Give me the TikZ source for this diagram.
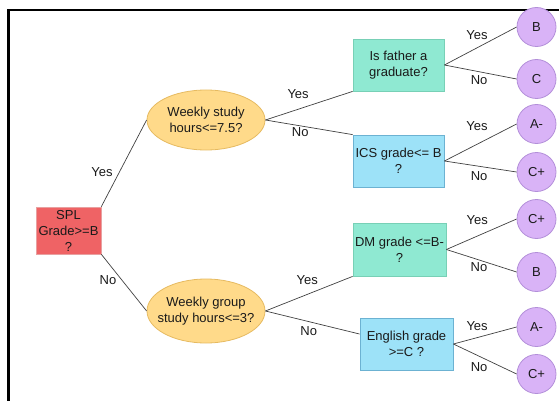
\documentclass[tikz,border=0pt]{standalone}
\usepackage{fontspec}
\setmainfont{Liberation Sans}
\usetikzlibrary{shapes.geometric}
\definecolor{redfill}{HTML}{EF6365}
\definecolor{redline}{HTML}{E8A0A0}
\definecolor{yelfill}{HTML}{FFDA8A}
\definecolor{yelline}{HTML}{E6BA60}
\definecolor{grnfill}{HTML}{8FE9D2}
\definecolor{grnline}{HTML}{78D0B6}
\definecolor{blufill}{HTML}{9DE2F8}
\definecolor{bluline}{HTML}{6CB2D2}
\definecolor{purfill}{HTML}{D9B3F7}
\definecolor{purline}{HTML}{B38FD9}
\definecolor{ink}{HTML}{1A1A1A}
\tikzset{
  txt/.style={font=\fontsize{13}{16}\selectfont, text=ink, align=center, inner sep=0pt},
  rootbox/.style={txt, rectangle, fill=redfill, draw=redline, line width=0.6pt, minimum width=65pt, minimum height=47pt},
  ellbox/.style={txt, ellipse, fill=yelfill, draw=yelline, line width=0.8pt, minimum width=118pt, inner sep=-10pt},
  grnbox/.style={txt, rectangle, fill=grnfill, draw=grnline, line width=0.8pt, minimum width=91pt, minimum height=52pt},
  blubox/.style={txt, rectangle, fill=blufill, draw=bluline, line width=0.8pt, minimum width=92pt, minimum height=52pt},
  leaf/.style={txt, circle, fill=purfill, draw=purline, line width=0.8pt, minimum size=39pt},
  conn/.style={draw=black!75, line width=0.7pt},
  lbl/.style={txt, fill=none, draw=none}
}
\begin{document}
\begin{tikzpicture}[x=1pt, y=-1pt]
\useasboundingbox (0,0) rectangle (559,401);
% frame
\coordinate (fbl) at (8.5,401);
\coordinate (ftl) at (8.5,10);
\coordinate (ftr) at (559,10);
\draw[line width=2.3pt, black] (fbl) -- (ftl) -- (ftr);

\node[rootbox] (spl) at (68.5,230.5) {SPL\\Grade>=B\\?};
\node[ellbox, minimum height=60pt] (e1) at (206,120) {Weekly study\\hours<=7.5?};
\node[ellbox, minimum height=64pt] (e2) at (206,311) {Weekly group\\study hours<=3?};
\node[grnbox] (fa) at (398.5,65) {Is father a\\graduate?};
\node[blubox, minimum width=91pt] (ics) at (398.5,161) {ICS grade<= B\\?};
\node[grnbox, minimum width=93pt, minimum height=53pt] (dm) at (399.5,249.5) {DM grade <=B-\\?};
\node[blubox, minimum width=93pt] (en) at (406.5,344) {English grade\\>=C ?};

\node[leaf] (l1) at (536.5,27) {B};
\node[leaf] (l2) at (536.5,79) {C};
\node[leaf] (l3) at (536.5,124) {A-};
\node[leaf] (l4) at (536.5,172) {C+};
\node[leaf] (l5) at (536.5,219) {C+};
\node[leaf] (l6) at (536.5,272) {B};
\node[leaf] (l7) at (536.5,327) {A-};
\node[leaf] (l8) at (536.5,374) {C+};

\path[conn] (spl.north east) -- node[lbl, pos=0.4, left=6.5pt] (t1) {Yes} (e1.west);
\path[conn] (spl.south east) -- node[lbl, pos=0.45, left=5pt] (t2) {No} (e2.west);
\path[conn] (e1.east) -- node[lbl, pos=0.375, above=10pt] (t3) {Yes} (fa.south west);
\path[conn] (e1.east) -- node[lbl, pos=0.4, below=1pt] (t4) {No} (ics.north west);
\path[conn] (e2.east) -- node[lbl, pos=0.48, above=9pt] (t5) {Yes} (dm.south west);
\path[conn] (e2.east) -- node[lbl, pos=0.46, below=5pt] (t6) {No} (en.168);
\path[conn] (fa.east) -- node[lbl, pos=0.45, above=8pt] (t7) {Yes} (l1.west);
\path[conn] (fa.east) -- node[lbl, pos=0.48, below=3pt] (t8) {No} (l2.west);
\path[conn] (ics.east) -- node[lbl, pos=0.45, above=13pt] (t9) {Yes} (l3.west);
\path[conn] (ics.east) -- node[lbl, pos=0.48, below=5pt] (t10) {No} (l4.west);
\path[conn] (dm.east) -- node[lbl, pos=0.44, above=11pt] (t11) {Yes} (l5.west);
\path[conn] (dm.east) -- node[lbl, pos=0.465, below=2pt] (t12) {No} (l6.west);
\path[conn] (en.east) -- node[lbl, pos=0.375, above=7pt] (t13) {Yes} (l7.west);
\path[conn] (en.east) -- node[lbl, pos=0.406, below=6pt] (t14) {No} (l8.west);
\end{tikzpicture}
\end{document}
